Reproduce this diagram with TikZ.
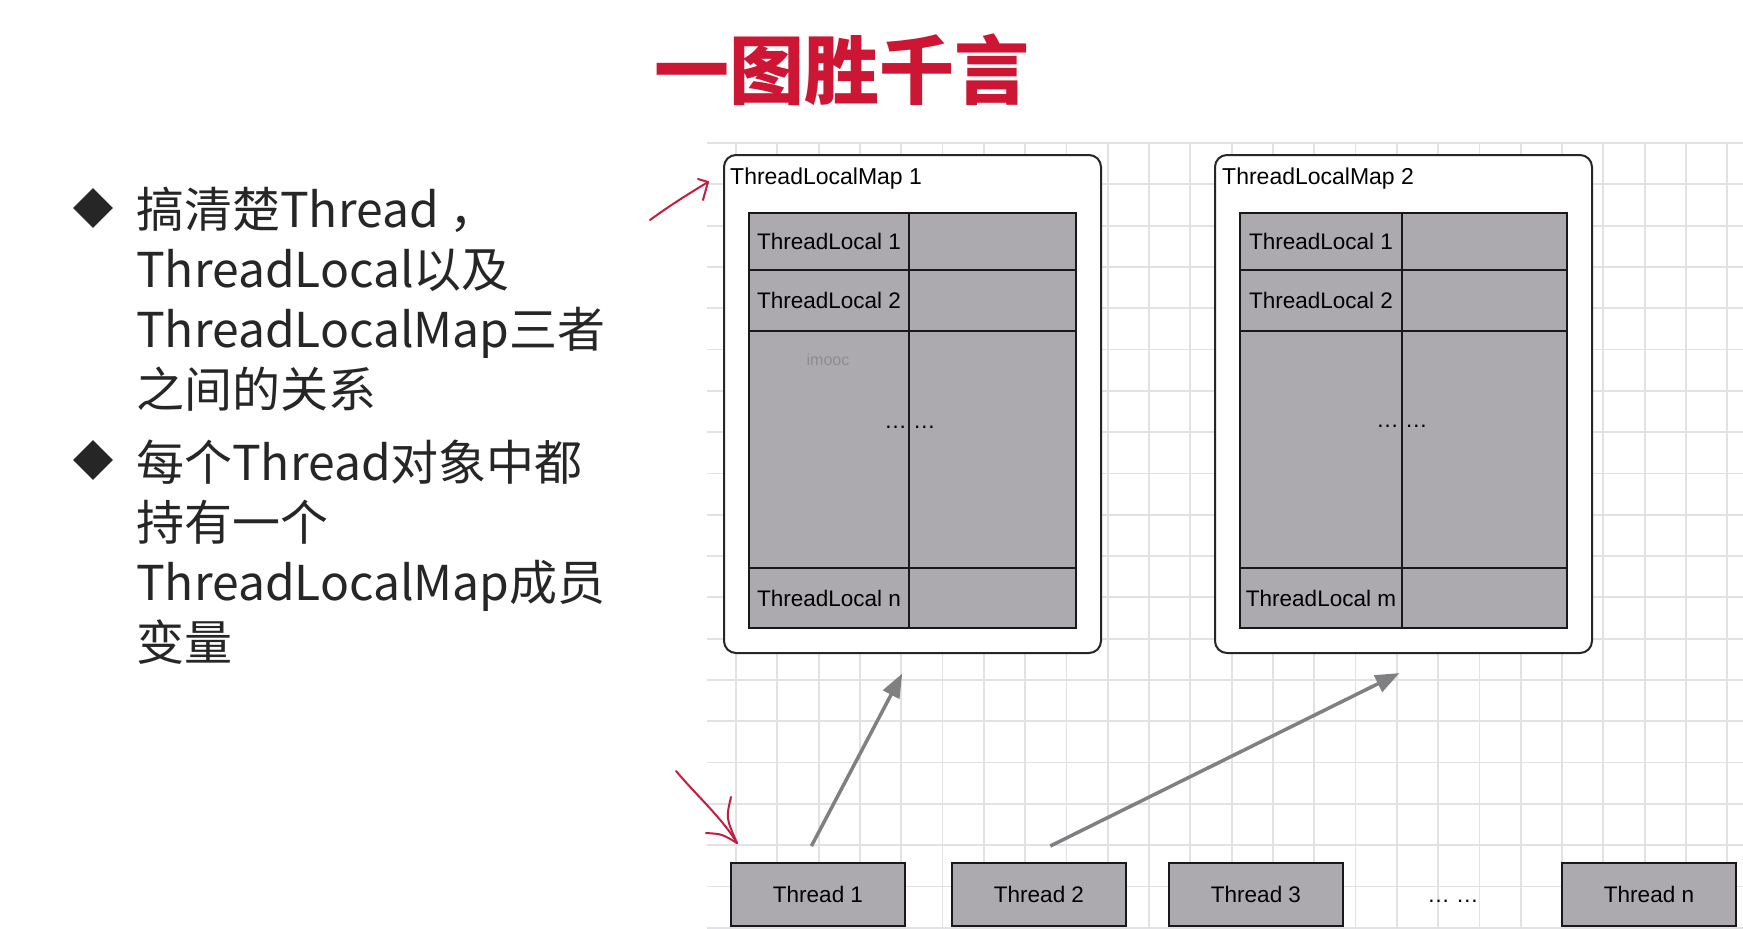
\documentclass[tikz,border=0pt]{standalone}
\usepackage{fontspec}
\setmainfont{Liberation Sans}
\newfontfamily\cjkfont{Noto Sans CJK SC}
\usetikzlibrary{arrows.meta,shapes.geometric}
\definecolor{titlered}{RGB}{204,22,52}
\definecolor{inkred}{RGB}{196,28,62}
\definecolor{cellgray}{RGB}{172,170,175}
\definecolor{gridgray}{RGB}{226,226,228}
\definecolor{textdark}{RGB}{38,38,38}
\definecolor{linkgray}{RGB}{128,128,130}
\tikzset{every picture/.style={x=1pt,y=-1pt}}
\tikzset{gridline/.style={draw=gridgray,line width=1.8pt,step=41.3pt}}
\tikzset{mapbox/.style={draw=black!85,fill=white,line width=2pt,rounded corners=12pt,anchor=north west}}
\tikzset{mapname/.style={anchor=base west,inner sep=0pt,font=\fontsize{23}{26}\selectfont}}
\tikzset{cell/.style={draw=black!90,fill=cellgray,line width=2pt,anchor=north west,inner sep=0pt,font=\fontsize{22.5}{26}\selectfont}}
\tikzset{thread/.style={cell,minimum width=174,minimum height=63}}
\tikzset{dots/.style={inner sep=0pt,font=\fontsize{22.5}{26}\selectfont}}
\tikzset{link/.style={draw=linkgray,line width=3.5pt,-{Triangle[length=24pt,width=18pt]}}}
\tikzset{bullet/.style={diamond,fill=textdark,inner sep=0pt,minimum size=40}}
\tikzset{point/.style={anchor=base west,inner sep=0pt,text=textdark,font=\cjkfont\fontsize{48}{56}\selectfont}}
\tikzset{ink/.style={draw=inkred,line width=2pt,line cap=round,line join=round}}

\begin{document}
\begin{tikzpicture}
\fill [white] (0,0) rectangle (1743,929);
\useasboundingbox (0,0) rectangle (1743,929);
\draw [gridline,shift={(736,143)}] (-29,0) grid (1007,786);

\node [text=titlered,font=\cjkfont\bfseries\fontsize{75}{80}\selectfont] (title) at (842,70) {一图胜千言};

\node [bullet] (bul1) at (93,208) {};
\node [point] (p1) at (136,227) {搞清楚Thread ，};
\node [point] (p2) at (136,287) {ThreadLocal以及};
\node [point] (p3) at (136,347) {ThreadLocalMap三者};
\node [point] (p4) at (136,407) {之间的关系};
\node [bullet] (bul2) at (93,460) {};
\node [point] (p5) at (136,480) {每个Thread对象中都};
\node [point] (p6) at (136,540) {持有一个};
\node [point] (p7) at (136,600) {ThreadLocalMap成员};
\node [point] (p8) at (136,660) {变量};

% map 1
\node [mapbox,minimum width=377,minimum height=498] (map1) at (723,154) {};
\node [mapname] (map1name) at (730,184) {ThreadLocalMap 1};
\node [cell,minimum width=160,minimum height=57] (m1a1) at (748,212) {ThreadLocal 1};
\node [cell,minimum width=167,minimum height=57] (m1b1) at (908,212) {};
\node [cell,minimum width=160,minimum height=61] (m1a2) at (748,269) {ThreadLocal 2};
\node [cell,minimum width=167,minimum height=61] (m1b2) at (908,269) {};
\node [cell,minimum width=160,minimum height=237] (m1a3) at (748,330) {};
\node [cell,minimum width=167,minimum height=237] (m1b3) at (908,330) {};
\node [cell,minimum width=160,minimum height=60] (m1a4) at (748,567) {ThreadLocal n};
\node [cell,minimum width=167,minimum height=60] (m1b4) at (908,567) {};
\node [dots] (m1dots) at (910,427) {… …};
\node [text=black!45,font=\fontsize{16}{18}\selectfont] (wm1) at (828,360) {imooc};

% map 2
\node [mapbox,minimum width=377,minimum height=498] (map2) at (1214,154) {};
\node [mapname] (map2name) at (1222,184) {ThreadLocalMap 2};
\node [cell,minimum width=162,minimum height=57] (m2a1) at (1239,212) {ThreadLocal 1};
\node [cell,minimum width=165,minimum height=57] (m2b1) at (1401,212) {};
\node [cell,minimum width=162,minimum height=61] (m2a2) at (1239,269) {ThreadLocal 2};
\node [cell,minimum width=165,minimum height=61] (m2b2) at (1401,269) {};
\node [cell,minimum width=162,minimum height=237] (m2a3) at (1239,330) {};
\node [cell,minimum width=165,minimum height=237] (m2b3) at (1401,330) {};
\node [cell,minimum width=162,minimum height=60] (m2a4) at (1239,567) {ThreadLocal m};
\node [cell,minimum width=165,minimum height=60] (m2b4) at (1401,567) {};
\node [dots] (m2dots) at (1402,426) {… …};

% threads
\node [thread] (t1) at (730,862) {Thread 1};
\node [thread] (t2) at (951,862) {Thread 2};
\node [thread] (t3) at (1168,862) {Thread 3};
\node [dots] (tdots) at (1453,901) {… …};
\node [thread] (tn) at (1561,862) {Thread n};

\draw [link,shorten <=18pt,shorten >=22pt] ([xshift=-15pt]t1.north) -- (map1.south);
\draw [link,shorten <=36pt,shorten >=43pt] ([xshift=-21pt]t2.north) -- ([xshift=34.5pt]map2.south);

% pen marks
\coordinate (pen1) at (708,182);
\coordinate (pen2) at (737,843);
\draw [ink] (650,220) .. controls (672,204) and (690,193) .. (pen1);
\draw [ink] (698,179) -- (pen1) -- (703,200);
\draw [ink] (676,771) .. controls (698,797) and (722,818) .. (pen2);
\draw [ink] (731,797) .. controls (726,818) .. (pen2);
\draw [ink] (706,833) .. controls (722,834) .. (pen2);
\end{tikzpicture}
\end{document}
